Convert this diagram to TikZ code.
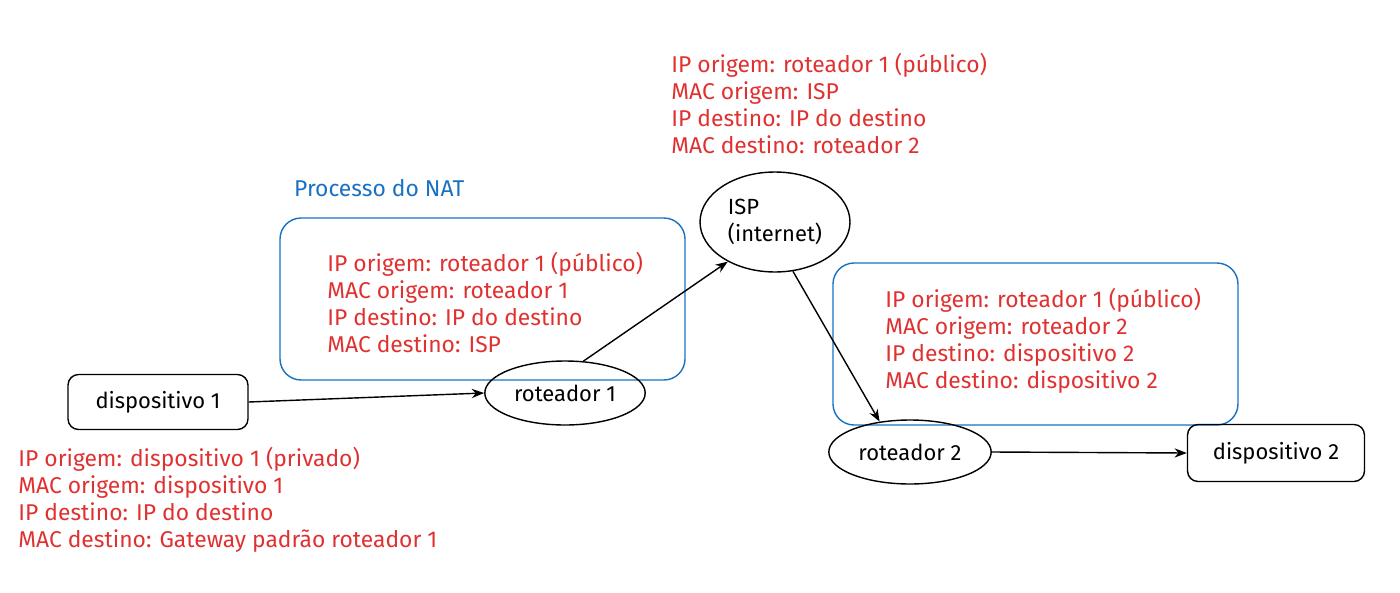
\documentclass[tikz,border=0pt]{standalone}
\usepackage{fontspec}
\setmainfont{Fira Sans}
\usetikzlibrary{shapes.geometric,arrows.meta}
\definecolor{natred}{HTML}{E03131}
\definecolor{natblue}{HTML}{1971C2}
\tikzset{
  devbox/.style = {draw=black, rounded corners=6pt, thick, minimum width=3.6cm,
    minimum height=1.1cm, font=\fontsize{12.5}{15}\selectfont},
  router/.style = {draw=black, ellipse, thick, minimum width=2.96cm,
    minimum height=1.28cm, font=\fontsize{12.5}{15}\selectfont},
  natbox/.style = {draw=natblue, rounded corners=12pt, thick},
  hdr/.style = {text=natred, align=left, anchor=north west, inner sep=0pt,
    font=\fontsize{13}{15.4}\selectfont},
  link/.style = {-{Stealth[length=7pt]}, thick}
}
\begin{document}
\begin{tikzpicture}[x=0.02cm,y=-0.02cm]
  \useasboundingbox (0,0) rectangle (1400,592);
  % blue boxes
  \draw[natbox] (280,218) rectangle (685,380);
  \draw[natbox] (833,263) rectangle (1238,425);
  \node[text=natblue, anchor=west, font=\fontsize{13}{15}\selectfont] (nat) at (288,188) {Processo do NAT};
  % nodes
  \node[devbox] (dev1) at (158,402) {dispositivo 1};
  \node[router] (rot1) at (565,393) {roteador 1};
  \node[router, minimum width=3cm, minimum height=2cm, align=left] (isp) at (775,222) {ISP\\(internet)};
  \node[router] (rot2) at (910,452) {roteador 2};
  \node[devbox, minimum width=3.54cm, minimum height=1.14cm] (dev2) at (1276,453) {dispositivo 2};
  % headers
  \node[hdr] (h1) at (18,447) {IP origem: dispositivo 1 (privado)\\MAC origem: dispositivo 1\\IP destino: IP do destino\\MAC destino: Gateway padrão roteador 1};
  \node[hdr] (h2) at (327,252) {IP origem: roteador 1 (público)\\MAC origem: roteador 1\\IP destino: IP do destino\\MAC destino: ISP};
  \node[hdr] (h3) at (671,53) {IP origem: roteador 1 (público)\\MAC origem: ISP\\IP destino: IP do destino\\MAC destino: roteador 2};
  \node[hdr] (h4) at (885,288) {IP origem: roteador 1 (público)\\MAC origem: roteador 2\\IP destino: dispositivo 2\\MAC destino: dispositivo 2};
  % connectors
  \draw[link] (dev1.east) -- (rot1.west);
  \draw[link] (rot1.60) -- (isp.220);
  \draw[link] (isp.290) -- (rot2.135);
  \draw[link] (rot2.east) -- (dev2.west);
\end{tikzpicture}
\end{document}
